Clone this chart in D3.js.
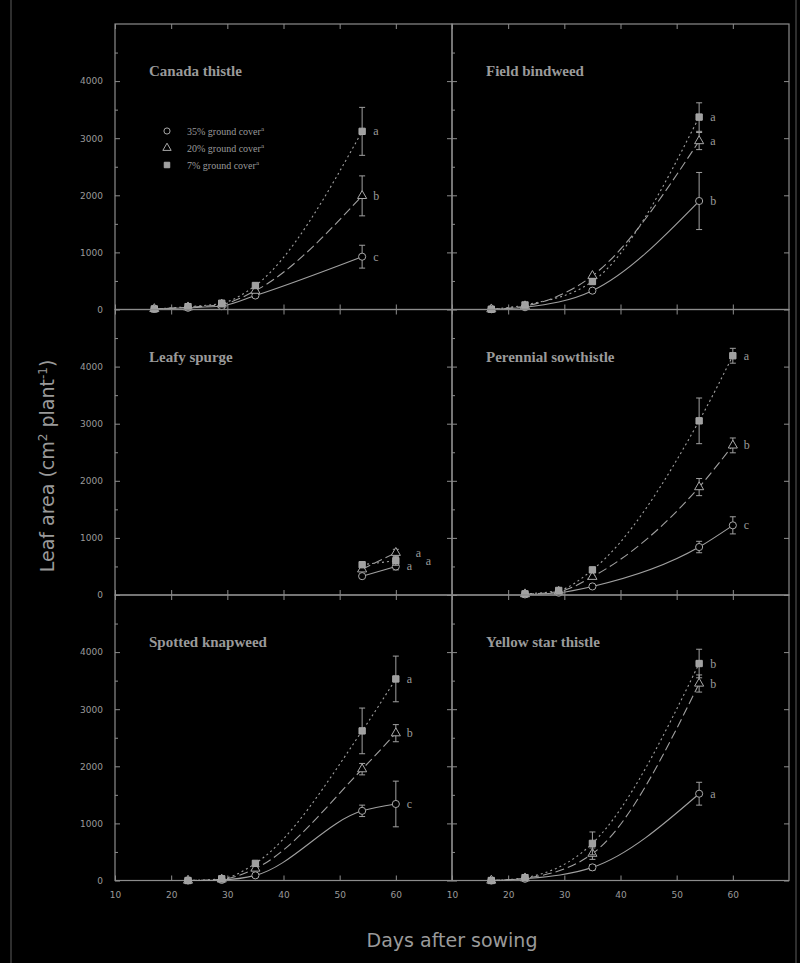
<!DOCTYPE html>
<html>
<head>
<meta charset="utf-8">
<script src="https://cdn.jsdelivr.net/npm/d3@7"></script>
<style>
  body { margin: 0; background: #000; }
  svg { display: block; }
  text { font-family: "DejaVu Sans", sans-serif; fill: #9a9a9a; }
</style>
</head>
<body>
<svg width="800" height="963"></svg>
<script>
// panel names, in reading order
const panelNames = ["Canada thistle", "Field bindweed", "Leafy spurge",
                    "Perennial sowthistle", "Spotted knapweed", "Yellow star thistle"];
const legendLabels = ["35% ground cover", "20% ground cover", "7% ground cover"];
const xTicks = [10, 20, 30, 40, 50, 60];
const yTicks = [0, 1000, 2000, 3000, 4000];

// Canada thistle
const canadaDays = [17, 23, 29, 35, 54];
const canadaCircle = [10, 30, 60, 245, 925];
const canadaTriangle = [10, 40, 90, 330, 1990];
const canadaSquare = [10, 50, 110, 420, 3120];
const canadaErr = [[0, 0, 0, 0, 200], [0, 0, 0, 0, 350], [0, 0, 0, 0, 420]];
const canadaLetters = ["c", "b", "a"];

// Field bindweed
const fieldDays = [17, 23, 35, 54];
const fieldCircle = [5, 40, 330, 1900];
const fieldTriangle = [5, 60, 590, 2950];
const fieldSquare = [5, 80, 490, 3370];
const fieldErr = [[0, 0, 0, 500], [0, 0, 0, 150], [0, 0, 0, 250]];
const fieldLetters = ["b", "a", "a"];

// Leafy spurge
const leafyDays = [54, 60];
const leafyCircle = [330, 500];
const leafyTriangle = [450, 740];
const leafySquare = [530, 600];
const leafyErr = [[0, 60], [0, 60], [0, 80]];
const leafyLetters = ["a", "a", "a"];

// Perennial sowthistle
const perennialDays = [23, 29, 35, 54, 60];
const perennialCircle = [10, 40, 150, 840, 1220];
const perennialTriangle = [15, 60, 320, 1890, 2620];
const perennialSquare = [20, 80, 440, 3050, 4190];
const perennialErr = [[0, 0, 0, 100, 150], [0, 0, 0, 150, 130], [0, 0, 0, 400, 130]];
const perennialLetters = ["c", "b", "a"];

// Spotted knapweed
const spottedDays = [23, 29, 35, 54, 60];
const spottedCircle = [0, 10, 90, 1220, 1340];
const spottedTriangle = [0, 20, 210, 1950, 2580];
const spottedSquare = [0, 30, 300, 2620, 3530];
const spottedErr = [[0, 0, 0, 100, 400], [0, 0, 0, 100, 150], [0, 0, 0, 400, 400]];
const spottedLetters = ["c", "b", "a"];

// Yellow star thistle
const yellowDays = [17, 23, 35, 54];
const yellowCircle = [0, 30, 230, 1520];
const yellowTriangle = [0, 40, 470, 3450];
const yellowSquare = [0, 50, 650, 3800];
const yellowErr = [[0, 0, 50, 200], [0, 0, 100, 150], [0, 0, 200, 250]];
const yellowLetters = ["a", "b", "b"];

const panels = [
  { days: canadaDays, series: [canadaCircle, canadaTriangle, canadaSquare], err: canadaErr, letters: canadaLetters },
  { days: fieldDays, series: [fieldCircle, fieldTriangle, fieldSquare], err: fieldErr, letters: fieldLetters },
  { days: leafyDays, series: [leafyCircle, leafyTriangle, leafySquare], err: leafyErr, letters: leafyLetters },
  { days: perennialDays, series: [perennialCircle, perennialTriangle, perennialSquare], err: perennialErr, letters: perennialLetters },
  { days: spottedDays, series: [spottedCircle, spottedTriangle, spottedSquare], err: spottedErr, letters: spottedLetters },
  { days: yellowDays, series: [yellowCircle, yellowTriangle, yellowSquare], err: yellowErr, letters: yellowLetters }
];

const svg = d3.select("svg");
const grey = "#8c8c8c";

// faint edge of the scanned page
svg.append("rect").attr("x", 11).attr("y", -2).attr("width", 785).attr("height", 967)
  .attr("fill", "none").attr("stroke", "#2e2e2e").attr("stroke-width", 2);

const plotLeft = 115, colW = 337, plotTop = 24, rowH = 285.5;
const dashes = [null, "9,4", "2,3"];

panels.forEach((p, i) => {
  const col = i % 2, row = Math.floor(i / 2);
  const g = svg.append("g")
    .attr("transform", `translate(${plotLeft + col * colW},${plotTop + row * rowH})`);

  const x = d3.scaleLinear().domain([10, 70]).range([0, colW]);
  const y = d3.scaleLinear().domain([0, 5000]).range([rowH, 0]);

  // frame
  g.append("rect").attr("width", colW).attr("height", rowH)
    .attr("fill", "none").attr("stroke", grey).attr("stroke-width", 1.2);

  // axes (ticks inward)
  const styleAxis = sel => {
    sel.select(".domain").remove();
    sel.selectAll("line").attr("stroke", grey);
    sel.selectAll("text").attr("fill", "#9a9a9a").style("font-size", "9px");
  };
  g.append("g").attr("transform", `translate(0,${rowH})`)
    .call(d3.axisBottom(x).tickValues(xTicks).tickSize(-5).tickPadding(row === 2 ? 11 : 3)
      .tickFormat(row === 2 ? d3.format("d") : ""))
    .call(styleAxis);
  g.append("g")
    .call(d3.axisTop(x).tickValues(xTicks).tickSize(-5).tickFormat(""))
    .call(styleAxis);
  g.append("g")
    .call(d3.axisLeft(y).tickValues(yTicks).tickSize(-5).tickPadding(col === 0 ? 12 : 3)
      .tickFormat(col === 0 ? d3.format("d") : ""))
    .call(styleAxis);
  g.append("g")
    .call(d3.axisLeft(y).tickValues(d3.range(500, 5000, 1000)).tickSize(-3).tickFormat(""))
    .call(styleAxis);
  g.append("g").attr("transform", `translate(${colW},0)`)
    .call(d3.axisRight(y).tickValues(yTicks).tickSize(-5).tickFormat(""))
    .call(styleAxis);

  // title
  g.append("text").attr("x", 34).attr("y", 52)
    .style("font-family", "'Liberation Serif', serif").style("font-size", "15px")
    .style("font-weight", "bold").attr("fill", "#a8a8a8")
    .text(panelNames[i]);

  const line = d3.line().x((d, k) => x(p.days[k])).y(d => y(d)).curve(d3.curveMonotoneX);

  p.series.forEach((vals, s) => {
    g.append("path").datum(vals)
      .attr("d", line)
      .attr("fill", "none").attr("stroke", "#a0a0a0").attr("stroke-width", 1.1)
      .attr("stroke-dasharray", dashes[s]);

    // error bars
    vals.forEach((v, k) => {
      const e = p.err[s][k];
      if (!e) return;
      const cx = x(p.days[k]);
      g.append("line").attr("x1", cx).attr("x2", cx)
        .attr("y1", y(v - e)).attr("y2", y(v + e)).attr("stroke", "#a0a0a0");
      [v - e, v + e].forEach(b => g.append("line")
        .attr("x1", cx - 3).attr("x2", cx + 3).attr("y1", y(b)).attr("y2", y(b))
        .attr("stroke", "#a0a0a0"));
    });

    // markers
    const sym = [d3.symbolCircle, d3.symbolTriangle, d3.symbolSquare][s];
    g.selectAll(null).data(vals).join("path")
      .attr("transform", (d, k) => `translate(${x(p.days[k])},${y(d)})`)
      .attr("d", d3.symbol(sym, s === 1 ? 36 : 40))
      .attr("fill", s === 2 ? "#a0a0a0" : "#000")
      .attr("stroke", "#a8a8a8").attr("stroke-width", 1);

    // significance letters (staggered where the end points crowd together)
    const last = vals.length - 1;
    const dx = i === 2 ? [11, 20, 30][s] : 11;
    g.append("text")
      .attr("x", x(p.days[last]) + dx).attr("y", y(vals[last]) + 4)
      .style("font-family", "'Liberation Serif', serif").style("font-size", "12px")
      .attr("fill", "#a8a8a8")
      .text(p.letters[s]);
  });

  // legend in the first panel
  if (i === 0) {
    const lg = g.append("g").attr("transform", "translate(52,107)");
    legendLabels.forEach((lab, s) => {
      const sym = [d3.symbolCircle, d3.symbolTriangle, d3.symbolSquare][s];
      lg.append("path").attr("transform", `translate(0,${s * 17})`)
        .attr("d", d3.symbol(sym, 30))
        .attr("fill", s === 2 ? "#a0a0a0" : "#000").attr("stroke", "#a8a8a8");
      const t = lg.append("text").attr("x", 20).attr("y", s * 17 + 3.5)
        .style("font-family", "'Liberation Serif', serif").style("font-size", "10px")
        .attr("fill", "#a0a0a0").text(lab);
      t.append("tspan").attr("dy", -4).style("font-size", "7px").text("a");
    });
  }
});

// axis titles
svg.append("text")
  .attr("transform", "translate(54,466) rotate(-90)")
  .attr("text-anchor", "middle")
  .style("font-size", "19px").attr("fill", "#8f8f8f")
  .html('Leaf area (cm<tspan dy="-7" font-size="12px">2</tspan><tspan dy="7"> plant</tspan><tspan dy="-7" font-size="12px">-1</tspan><tspan dy="7">)</tspan>');

svg.append("text")
  .attr("x", 452).attr("y", 947).attr("text-anchor", "middle")
  .style("font-size", "19px").attr("fill", "#8f8f8f")
  .text("Days after sowing");
</script>
</body>
</html>
